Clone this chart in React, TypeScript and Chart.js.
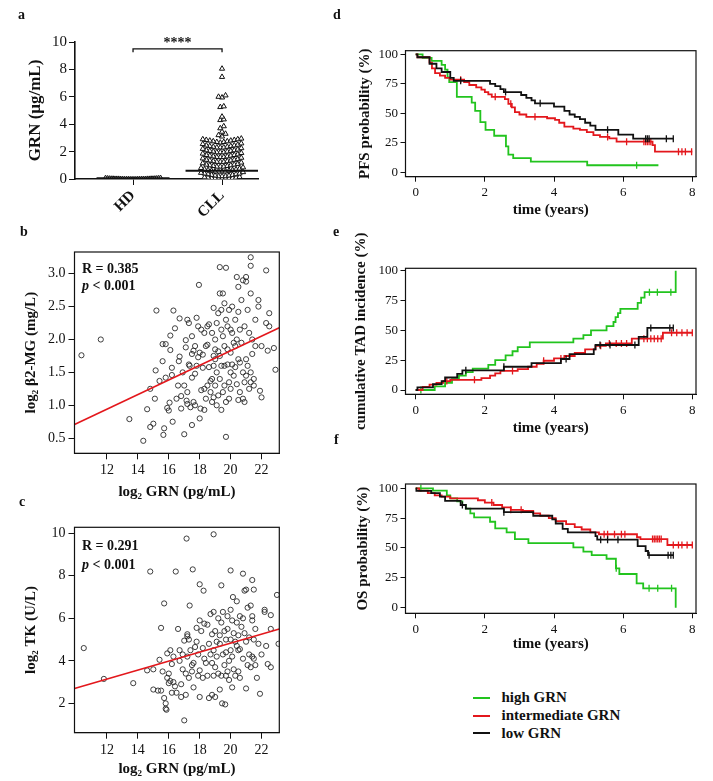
import React, { useEffect, useRef } from "react";
import { Chart, registerables } from "chart.js";
Chart.register(...registerables);

const FONT = '"Liberation Serif", "Times New Roman", Times, serif';
Chart.defaults.font.family = FONT;
Chart.defaults.color = "#111";

// ---------------- Panel a : GRN dot plot ----------------
const A_GROUPS = ["HD", "CLL"];
const A_HD = [0.02, 0.03, 0.05, 0.04, 0.06, 0.03, 0.08, 0.02, 0.05, 0.07, 0.04, 0.06, 0.03, 0.09, 0.05, 0.04, 0.02, 0.06, 0.1, 0.03, 0.05, 0.07, 0.04, 0.08, 0.03, 0.06, 0.05, 0.02, 0.04, 0.11];
const A_CLL = [
  8.05, 7.45, 6.1, 6.0, 5.95, 5.3, 5.25, 4.55, 4.35, 4.3, 3.85, 3.7, 3.45, 3.3, 3.2, 3.1,
  2.95, 2.9, 2.9, 2.85, 2.85, 2.8, 2.8, 2.75, 2.75, 2.7, 2.7, 2.65,
  2.6, 2.55, 2.5, 2.45, 2.45, 2.4, 2.4, 2.35, 2.35, 2.3, 2.3, 2.3,
  2.25, 2.2, 2.15, 2.1, 2.1, 2.05, 2.05, 2.0, 2.0, 1.95, 1.95, 1.95,
  1.9, 1.85, 1.8, 1.75, 1.75, 1.7, 1.7, 1.65, 1.65, 1.6, 1.6, 1.6,
  1.55, 1.5, 1.45, 1.4, 1.4, 1.35, 1.35, 1.3, 1.3, 1.25, 1.25, 1.25,
  1.2, 1.15, 1.1, 1.05, 1.05, 1.0, 1.0, 0.95, 0.95, 0.9, 0.9, 0.9,
  0.85, 0.8, 0.75, 0.7, 0.7, 0.65, 0.65, 0.6, 0.6, 0.55, 0.55, 0.55, 0.55,
  0.5, 0.45, 0.4, 0.4, 0.35, 0.35, 0.3, 0.3, 0.25, 0.25, 0.2, 0.2, 0.2,
  0.15, 0.12, 0.1, 0.1, 0.08, 0.06, 0.05, 0.05, 0.04, 0.03, 0.02,
];
const A_MEDIANS = [0.05, 0.6];
const A_Y_TICKS = [0, 2, 4, 6, 8, 10];
const A_BRACKET_Y = 9.5;
const A_SIG = "****";
const A_Y_TITLE = "GRN (μg/mL)";

// ---------------- Panel b : log2 GRN vs log2 B2-MG ----------------
const B_POINTS = [
  [10.35, 1.76], [11.6, 2.0], [13.45, 0.79], [14.35, 0.46], [14.6, 0.94], [14.8, 0.67], [14.8, 1.25], [15.0, 0.72], [15.1, 1.1], [15.15, 1.53], [15.2, 2.44], [15.4, 1.37],
  [15.6, 1.67], [15.6, 1.93], [15.7, 0.65], [15.65, 0.55], [15.8, 1.42], [15.8, 1.93], [15.9, 0.96], [16.0, 0.92], [16.05, 1.04], [16.1, 1.84], [16.1, 2.06], [16.2, 1.57], [16.2, 1.46], [16.25, 0.75], [16.3, 2.44], [16.4, 2.17], [16.5, 1.1], [16.6, 1.3], [16.7, 2.32], [16.7, 1.74], [16.65, 1.67], [16.8, 1.14], [16.8, 0.95], [16.9, 1.5],
  [17.0, 0.56], [17.0, 1.3], [17.1, 1.99], [17.1, 1.88], [17.15, 1.07], [17.2, 2.3], [17.2, 1.2], [17.2, 1.02], [17.3, 1.62], [17.35, 1.6], [17.3, 2.25], [17.4, 0.97], [17.5, 0.7], [17.5, 1.78], [17.5, 1.42], [17.5, 2.05], [17.6, 1.05], [17.6, 1.83], [17.7, 1.0], [17.7, 1.9], [17.7, 1.48], [17.8, 2.33], [17.8, 1.6], [17.9, 2.2], [17.9, 1.73], [17.95, 2.83],
  [18.0, 1.8], [18.0, 0.8], [18.05, 0.95], [18.1, 1.23], [18.1, 2.15], [18.2, 1.77], [18.2, 1.57], [18.3, 0.93], [18.3, 2.1], [18.3, 1.25], [18.4, 1.9], [18.4, 1.1], [18.5, 2.2], [18.5, 1.92], [18.5, 1.3], [18.6, 1.58], [18.6, 2.23], [18.7, 1.37], [18.7, 1.2], [18.8, 1.4], [18.8, 1.05], [18.8, 2.1], [18.9, 2.48], [18.9, 1.6], [18.9, 1.12], [18.9, 1.75],
  [19.0, 2.0], [19.0, 1.7], [19.0, 1.3], [19.0, 1.85], [19.1, 2.25], [19.1, 1.5], [19.1, 1.0], [19.2, 2.4], [19.2, 1.82], [19.2, 1.15], [19.3, 3.1], [19.3, 2.7], [19.3, 1.75], [19.3, 1.4], [19.4, 2.45], [19.4, 1.6], [19.4, 0.93], [19.4, 2.15], [19.5, 2.7], [19.5, 1.2], [19.5, 2.05], [19.6, 2.55], [19.6, 1.9], [19.6, 1.3], [19.6, 1.6], [19.7, 3.09], [19.7, 2.3], [19.7, 1.05], [19.7, 0.52], [19.8, 2.2], [19.8, 1.62], [19.8, 1.85], [19.9, 2.45], [19.9, 1.35], [19.9, 1.1],
  [20.0, 2.15], [20.0, 1.5], [20.0, 1.25], [20.0, 1.8], [20.1, 2.5], [20.1, 2.1], [20.1, 1.62], [20.2, 1.95], [20.2, 1.45], [20.3, 2.3], [20.3, 1.58], [20.3, 1.9], [20.4, 1.32], [20.4, 2.0], [20.4, 2.95], [20.5, 2.8], [20.5, 1.7], [20.5, 1.08], [20.5, 2.42], [20.6, 1.65], [20.6, 1.2], [20.6, 2.15], [20.7, 2.6], [20.7, 1.95], [20.8, 2.9], [20.8, 1.5], [20.8, 1.1], [20.9, 1.05], [20.9, 2.2], [20.9, 1.35],
  [21.0, 2.95], [21.0, 2.88], [21.0, 1.7], [21.0, 1.45], [21.1, 2.45], [21.1, 1.6], [21.2, 2.1], [21.2, 1.25], [21.3, 3.25], [21.3, 3.12], [21.3, 2.7], [21.3, 1.5], [21.3, 1.35], [21.4, 2.0], [21.4, 1.78], [21.5, 1.4], [21.5, 1.3], [21.6, 2.3], [21.6, 1.9], [21.8, 2.6], [21.8, 2.5], [21.9, 1.22], [22.0, 1.12], [22.0, 1.9], [22.3, 2.25], [22.3, 3.05], [22.4, 1.83], [22.5, 2.4], [22.5, 2.2], [22.8, 1.87], [22.9, 1.54],
];
const B_FIT = { intercept: -0.39, slope: 0.111 };
const B_STATS = ["R = 0.385", "p", " < 0.001"];
const B_X_TICKS = [12, 14, 16, 18, 20, 22];
const B_Y_TICKS = [0.5, 1.0, 1.5, 2.0, 2.5, 3.0];
const B_Y_TITLE = "log₂ β2-MG (mg/L)";
const GRN_X_TITLE = "log₂ GRN (pg/mL)";

// ---------------- Panel c : log2 GRN vs log2 TK ----------------
const C_POINTS = [
  [10.5, 4.6], [11.8, 3.15], [13.7, 2.95], [14.6, 3.55], [14.8, 8.2], [15.0, 3.6], [15.0, 2.65], [15.3, 2.6], [15.4, 4.05], [15.5, 5.55], [15.5, 2.6], [15.7, 6.7], [15.6, 3.5], [15.7, 2.25], [15.8, 2.0], [15.8, 1.75], [15.85, 1.7], [15.9, 4.35], [15.9, 3.2],
  [16.0, 3.4], [16.0, 2.95], [16.1, 4.5], [16.1, 3.05], [16.2, 3.85], [16.2, 2.5], [16.3, 4.2], [16.3, 3.0], [16.4, 2.8], [16.45, 8.2], [16.5, 2.5], [16.6, 5.5], [16.7, 4.5], [16.7, 4.0], [16.8, 2.9], [16.8, 2.3], [16.9, 4.3], [16.9, 3.6],
  [17.0, 1.2], [17.0, 4.95], [17.1, 3.4], [17.1, 2.4], [17.15, 9.75], [17.2, 5.25], [17.2, 5.15], [17.2, 4.2], [17.3, 3.2], [17.3, 5.0], [17.35, 6.6], [17.4, 4.5], [17.5, 3.8], [17.5, 3.5], [17.55, 8.3], [17.6, 3.9], [17.6, 2.75], [17.7, 4.65], [17.8, 5.55], [17.8, 4.9], [17.9, 3.3], [17.9, 4.3],
  [18.0, 7.6], [18.0, 5.9], [18.0, 2.3], [18.0, 3.55], [18.1, 5.4], [18.2, 4.6], [18.2, 3.2], [18.25, 7.3], [18.3, 5.75], [18.3, 4.1], [18.4, 3.9], [18.5, 5.7], [18.5, 3.3], [18.6, 4.8], [18.6, 2.25], [18.7, 6.2], [18.7, 4.3], [18.8, 5.25], [18.8, 3.9], [18.8, 2.4], [18.9, 9.95], [18.9, 6.3], [18.9, 4.5], [18.9, 3.3],
  [19.0, 5.4], [19.0, 3.7], [19.0, 2.3], [19.1, 4.9], [19.1, 4.2], [19.2, 6.0], [19.2, 3.4], [19.3, 5.2], [19.3, 4.8], [19.3, 2.65], [19.4, 5.8], [19.4, 3.3], [19.4, 7.55], [19.45, 2.0], [19.5, 6.3], [19.5, 4.3], [19.6, 5.4], [19.6, 3.8], [19.65, 1.95], [19.7, 5.0], [19.7, 4.4], [19.7, 3.3], [19.8, 6.1], [19.8, 5.5], [19.8, 3.5], [19.9, 4.0], [19.9, 3.1],
  [20.0, 8.25], [20.0, 6.4], [20.0, 5.0], [20.0, 4.5], [20.1, 5.9], [20.1, 4.2], [20.1, 2.75], [20.15, 7.0], [20.2, 5.3], [20.2, 3.6], [20.3, 4.9], [20.3, 3.3], [20.4, 6.8], [20.4, 5.8], [20.4, 4.7], [20.5, 5.2], [20.5, 4.5], [20.5, 3.5], [20.6, 6.1], [20.6, 4.55], [20.6, 3.2], [20.7, 5.6], [20.8, 8.1], [20.8, 4.1], [20.8, 6.0], [20.9, 7.3], [20.9, 5.3],
  [21.0, 7.35], [21.0, 4.9], [21.0, 2.7], [21.1, 6.5], [21.1, 3.8], [21.2, 5.1], [21.2, 4.3], [21.3, 6.6], [21.3, 3.7], [21.4, 7.8], [21.4, 6.1], [21.4, 5.9], [21.4, 4.2], [21.5, 7.35], [21.5, 5.0], [21.5, 4.1], [21.6, 5.5], [21.6, 3.8], [21.7, 3.2], [21.8, 4.8], [21.9, 2.45], [22.0, 4.3], [22.2, 6.4], [22.2, 6.3], [22.3, 4.7], [22.4, 3.85], [22.6, 6.15], [22.6, 5.5], [22.6, 3.7], [23.0, 7.1], [23.1, 4.8],
];
const C_FIT = { intercept: 0.607, slope: 0.2113 };
const C_STATS = ["R = 0.291", "p", " < 0.001"];
const C_Y_TICKS = [2, 4, 6, 8, 10];
const C_Y_TITLE = "log₂ TK (U/L)";

// ---------------- Panels d, e, f : Kaplan-Meier ----------------
const KM_X_TICKS = [0, 2, 4, 6, 8];
const KM_Y_TICKS = [0, 25, 50, 75, 100];
const KM_X_TITLE = "time (years)";
const LEGEND_LABELS = ["high GRN", "intermediate GRN", "low GRN"];

// d: PFS
const PFS_HIGH_T = [0, 0.2, 0.46, 0.75, 0.85, 0.92, 0.97, 1.19, 1.62, 1.72, 1.87, 2.02, 2.27, 2.61, 2.68, 2.82, 3.33, 4.96, 7.02];
const PFS_HIGH_S = [100, 97, 94.5, 91, 87, 80.5, 76.5, 64, 59, 52, 42.5, 36, 31, 22, 15, 12, 9, 6, 6];
const PFS_HIGH_C = [6.39];
const PFS_MID_T = [0, 0.05, 0.4, 0.47, 0.56, 0.7, 0.85, 1.0, 1.4, 1.55, 1.75, 1.9, 2.0, 2.1, 2.2, 2.58, 2.68, 2.78, 2.87, 3.0, 3.2, 3.8, 4.03, 4.15, 4.3, 4.56, 4.75, 4.95, 5.14, 5.33, 5.6, 5.81, 6.85, 6.92, 8.0];
const PFS_MID_S = [100, 97.5, 93, 88, 84, 82, 80, 78.5, 76.5, 74, 72, 70, 68, 66, 64, 62, 58, 55, 51, 49, 47, 45.8, 44.4, 42, 38.7, 37, 35.9, 34, 31.6, 30, 28.8, 26, 23, 17.5, 17.5];
const PFS_MID_C = [1.3, 2.3, 2.75, 3.45, 5.55, 6.1, 6.6, 6.65, 6.7, 6.75, 6.8, 7.6, 7.7, 7.8, 7.98];
const PFS_LOW_T = [0, 0.05, 0.4, 0.6, 0.75, 1.0, 1.1, 2.15, 2.3, 2.45, 2.55, 3.05, 3.2, 3.35, 3.45, 4.0, 4.3, 4.45, 4.6, 4.75, 4.9, 5.05, 5.2, 5.86, 6.29, 7.45];
const PFS_LOW_S = [100, 97.5, 92, 88, 85, 80, 77.5, 75, 73, 70.5, 68, 65.5, 63, 61, 58.5, 55.6, 52, 49, 47, 45, 42, 39.5, 36, 32, 28.5, 28.5];
const PFS_LOW_C = [1.3, 2.6, 3.6, 5.55, 6.65, 6.7, 6.75, 7.25, 7.45];

// e: cumulative TAD incidence
const TAD_HIGH_T = [0, 0.55, 0.85, 1.05, 1.25, 1.45, 1.65, 2.1, 2.3, 2.6, 2.8, 2.95, 3.3, 4.56, 4.85, 5.07, 5.52, 5.72, 5.78, 5.85, 5.92, 6.42, 6.52, 6.62, 7.52];
const TAD_HIGH_S = [0, 3, 6, 9, 12, 15, 18, 21, 25, 29, 32.5, 36, 40, 43, 46, 50, 53.5, 57, 61, 64.5, 68, 73, 77.5, 82, 100];
const TAD_HIGH_C = [0.15, 6.76, 6.99, 7.38];
const TAD_MID_T = [0, 0.2, 0.4, 0.6, 0.8, 1.0, 1.9, 2.15, 2.3, 2.45, 2.95, 3.25, 3.5, 3.7, 4.0, 4.3, 4.6, 4.9, 5.2, 5.5, 6.25, 7.15, 8.0];
const TAD_MID_S = [0, 2.5, 4.5, 6, 7.5, 8.5, 10, 12, 14, 16, 17.5, 19.5, 22, 24.5, 26.5, 28.5, 31, 34, 37, 39, 43, 48, 48];
const TAD_MID_C = [0.9, 1.7, 2.8, 3.7, 4.2, 5.35, 5.6, 5.8, 5.95, 6.1, 6.6, 6.7, 6.8, 6.9, 7.0, 7.1, 7.4, 7.55, 7.7, 7.85, 8.0];
const TAD_LOW_T = [0, 0.05, 0.5, 0.75, 0.85, 1.2, 1.35, 2.55, 3.35, 4.2, 4.45, 5.15, 5.2, 6.45, 6.7, 7.45];
const TAD_LOW_S = [0, 2.2, 5, 7.5, 10.5, 13.5, 16.5, 19.5, 22.5, 26, 30, 34, 37.7, 44.5, 52, 52];
const TAD_LOW_C = [1.45, 2.55, 4.35, 5.33, 5.62, 6.34, 6.8, 7.35, 7.45];

// f: OS
const OS_HIGH_T = [0, 0.5, 0.9, 1.0, 1.2, 1.35, 1.45, 1.58, 1.69, 2.15, 2.3, 2.63, 2.87, 3.26, 4.56, 4.85, 5.09, 5.52, 5.79, 5.89, 6.39, 6.58, 7.52];
const OS_HIGH_S = [100, 98, 94, 91.5, 89, 86, 83, 79, 75.7, 72, 66.5, 63, 57.5, 54, 50.6, 47, 44, 41, 33, 28.2, 20.4, 16.2, 0];
const OS_HIGH_C = [0.15, 5.8, 6.75, 7.0, 7.4];
const OS_MID_T = [0, 0.1, 0.35, 0.55, 0.75, 1.0, 1.8, 2.0, 2.25, 2.5, 2.75, 3.1, 3.4, 3.6, 3.85, 4.05, 4.35, 4.6, 4.8, 5.05, 5.3, 6.4, 6.5, 7.28, 8.0];
const OS_MID_S = [100, 98, 96, 94, 93, 91.5, 90, 88, 86, 84, 82, 81, 79, 77, 75, 72.5, 70, 67.5, 65.5, 63, 61.5, 59, 57.5, 52.5, 52.5];
const OS_MID_C = [2.2, 2.75, 3.05, 5.45, 5.55, 5.75, 5.95, 6.05, 6.85, 6.9, 6.95, 7.0, 7.05, 7.1, 7.45, 7.6, 7.7, 7.85, 8.0];
const OS_LOW_T = [0, 0.02, 0.45, 0.7, 0.85, 1.3, 1.45, 2.55, 3.4, 3.95, 4.05, 4.25, 4.4, 5.2, 5.25, 6.42, 6.65, 6.72, 7.45];
const OS_LOW_S = [100, 97.8, 96, 93, 89.5, 86, 83, 80, 77, 74, 70.5, 66, 63, 60, 57, 51.5, 47.5, 44, 44];
const OS_LOW_C = [1.35, 2.55, 5.35, 5.55, 5.85, 6.75, 7.3, 7.38, 7.45];

// ---------------- styling / layout ----------------
const INK = "#111";
const GREEN = "#22c41e";
const RED = "#e3171c";

type Box = { left: number; top: number; width: number; height: number };
type Area = { l: number; t: number; r: number; b: number };

function layoutPadding(box: Box, area: Area, yw: number, xh: number) {
  return {
    left: area.l - box.left - yw,
    top: area.t - box.top,
    right: box.left + box.width - area.r,
    bottom: box.top + box.height - area.b - xh,
  };
}

function linAxis(o: any) {
  return {
    type: "linear",
    position: o.vertical ? "left" : "bottom",
    min: o.min,
    max: o.max,
    afterBuildTicks: (s: any) => {
      s.ticks = o.ticks.map((v: number) => ({ value: v }));
    },
    afterFit: (s: any) => {
      if (o.vertical) s.width = o.size;
      else s.height = o.size;
    },
    grid: { display: true, drawOnChartArea: false, drawTicks: true, tickLength: o.tickLen ?? 5, color: INK, lineWidth: 1 },
    border: { display: true, color: INK, width: o.border ?? 1 },
    ticks: {
      font: { size: o.tickFont, family: FONT, weight: o.tickBold ? "bold" : "normal" },
      color: INK,
      padding: o.pad ?? 3,
      autoSkip: false,
      minRotation: o.rot ?? 0,
      maxRotation: o.rot ?? 0,
      callback: (v: any) => o.fmt(Number(v)),
    },
    title: {
      display: !!o.title,
      text: o.title || "",
      font: { size: o.titleFont, weight: "bold", family: FONT },
      color: INK,
      padding: 0,
    },
  };
}

const boxPlugin = {
  id: "frame",
  afterDatasetsDraw(chart: any) {
    const { ctx, chartArea: a } = chart;
    ctx.save();
    ctx.strokeStyle = INK;
    ctx.lineWidth = 1.2;
    ctx.strokeRect(a.left, a.top, a.right - a.left, a.bottom - a.top);
    ctx.restore();
  },
};

function statsPlugin(lines: string[], dx: number, dy1: number, dy2: number) {
  return {
    id: "stats",
    afterDraw(chart: any) {
      const { ctx, chartArea: a } = chart;
      ctx.save();
      ctx.fillStyle = INK;
      ctx.textBaseline = "middle";
      ctx.textAlign = "left";
      ctx.font = `bold 14px ${FONT}`;
      ctx.fillText(lines[0], a.left + dx, a.top + dy1);
      ctx.font = `italic bold 14px ${FONT}`;
      ctx.fillText(lines[1], a.left + dx, a.top + dy2);
      const w = ctx.measureText(lines[1]).width;
      ctx.font = `bold 14px ${FONT}`;
      ctx.fillText(lines[2], a.left + dx + w, a.top + dy2);
      ctx.restore();
    },
  };
}

const baseOptions = {
  responsive: false,
  animation: false,
  devicePixelRatio: 1,
  events: [],
};

// horizontal spread of dot-plot points within height bins (lowest values centred)
function swarm(values: number[], center: number, bin: number, spacing: number) {
  const bins: Record<string, number[]> = {};
  values.forEach((v) => {
    const k = String(Math.round(v / bin));
    (bins[k] = bins[k] || []).push(v);
  });
  const pts: any[] = [];
  Object.keys(bins).forEach((k) => {
    const arr = bins[k].slice().sort((a, b) => a - b);
    const n = arr.length;
    const slots: number[] = [];
    for (let i = 0; i < n; i++) slots.push(i - (n - 1) / 2);
    slots.sort((a, b) => Math.abs(a) - Math.abs(b) || a - b);
    arr.forEach((v, i) => pts.push({ x: center + slots[i] * spacing, y: v }));
  });
  return pts;
}

function stepAt(T: number[], S: number[], t: number) {
  let s = S[0];
  for (let i = 0; i < T.length; i++) if (T[i] <= t) s = S[i];
  return s;
}

function kmDatasets(groups: any[]) {
  const ds: any[] = [];
  groups.forEach((g) => {
    ds.push({
      type: "scatter",
      data: g.T.map((t: number, i: number) => ({ x: t, y: g.S[i] })),
      showLine: true,
      stepped: "before",
      borderColor: g.color,
      borderWidth: 1.8,
      pointRadius: 0,
      borderJoinStyle: "miter",
    });
    ds.push({
      type: "scatter",
      data: g.C.map((t: number) => ({ x: t, y: stepAt(g.T, g.S, t) })),
      pointStyle: "line",
      rotation: 90,
      pointRadius: 3.5,
      borderWidth: 1.3,
      borderColor: g.color,
      backgroundColor: g.color,
    });
  });
  return ds;
}

// ---------- layout boxes ----------
const A_BOX = { left: 0, top: 0, width: 300, height: 225 };
const A_AREA = { l: 75, t: 42, r: 258, b: 179 };
const B_BOX = { left: 0, top: 225, width: 330, height: 285 };
const B_AREA = { l: 74.5, t: 252, r: 279.3, b: 453.3 };
const C_BOX = { left: 0, top: 510, width: 330, height: 271 };
const C_AREA = { l: 74.5, t: 527.3, r: 279.3, b: 732.7 };
const D_BOX = { left: 330, top: 0, width: 383, height: 228 };
const D_AREA = { l: 405.5, t: 50.7, r: 696, b: 176.7 };
const E_BOX = { left: 330, top: 228, width: 383, height: 212 };
const E_AREA = { l: 405.5, t: 268.3, r: 696, b: 394.3 };
const F_BOX = { left: 330, top: 440, width: 383, height: 220 };
const F_AREA = { l: 405.5, t: 484, r: 696, b: 613.3 };

function configA() {
  const spacingCLL = 3.5 / 89;
  const spacingHD = 1.9 / 89;
  const hd = swarm(A_HD, 0, 1, spacingHD);
  const cll = swarm(A_CLL, 1, 0.35, spacingCLL);
  const medians = A_MEDIANS.map((m, i) => ({
    type: "scatter",
    data: [{ x: i - 0.41, y: m }, { x: i + 0.41, y: m }],
    showLine: true,
    borderColor: INK,
    borderWidth: 2,
    pointRadius: 0,
  }));
  const bracket = {
    type: "scatter",
    data: [{ x: 0, y: A_BRACKET_Y - 0.25 }, { x: 0, y: A_BRACKET_Y }, { x: 1, y: A_BRACKET_Y }, { x: 1, y: A_BRACKET_Y - 0.25 }],
    showLine: true,
    borderColor: INK,
    borderWidth: 1.3,
    pointRadius: 0,
  };
  const pointStyle = { pointStyle: "triangle", pointRadius: 3, borderColor: INK, borderWidth: 1, backgroundColor: "#fff" };
  const starsPlugin = {
    id: "stars",
    afterDraw(chart: any) {
      const { ctx, scales } = chart;
      const cx = (scales.x.getPixelForValue(0) + scales.x.getPixelForValue(1)) / 2;
      const cy = scales.y.getPixelForValue(A_BRACKET_Y);
      ctx.save();
      ctx.fillStyle = INK;
      ctx.font = `bold 14px ${FONT}`;
      ctx.textAlign = "center";
      ctx.textBaseline = "alphabetic";
      ctx.fillText(A_SIG, cx, cy - 2);
      ctx.restore();
    },
  };
  return {
    type: "scatter",
    data: {
      datasets: [
        ...medians,
        bracket,
        { data: hd, ...pointStyle, pointRadius: 2.4 },
        { data: cll, ...pointStyle },
      ],
    },
    options: {
      ...baseOptions,
      layout: { padding: layoutPadding(A_BOX, A_AREA, 50, 40) },
      plugins: { legend: { display: false }, tooltip: { enabled: false } },
      scales: {
        x: linAxis({ vertical: false, min: -0.652, max: 1.404, ticks: [0, 1], fmt: (v: number) => A_GROUPS[Math.round(v)], tickFont: 15, tickBold: true, rot: 45, size: 40, tickLen: 6, pad: 2, border: 1.6 }),
        y: linAxis({ vertical: true, min: 0, max: 10, ticks: A_Y_TICKS, fmt: (v: number) => String(v), tickFont: 15, size: 50, tickLen: 6, pad: 2, border: 1.6, title: A_Y_TITLE, titleFont: 17 }),
      },
    },
    plugins: [starsPlugin],
  };
}

function configScatter(points: number[][], fit: any, stats: string[], yTicks: number[], yFmt: (v: number) => string, yMin: number, yMax: number, yTitle: string, box: Box, area: Area, xh: number, dy1: number, dy2: number) {
  const xMin = 9.9, xMax = 23.15;
  return {
    type: "scatter",
    data: {
      datasets: [
        {
          type: "scatter",
          data: [xMin, xMax].map((x) => ({ x, y: fit.intercept + fit.slope * x })),
          showLine: true,
          borderColor: RED,
          borderWidth: 1.6,
          pointRadius: 0,
        },
        {
          data: points.map((p) => ({ x: p[0], y: p[1] })),
          pointStyle: "circle",
          pointRadius: 2.6,
          borderWidth: 0.9,
          borderColor: "#2a2a2a",
          backgroundColor: "rgba(0,0,0,0)",
        },
      ],
    },
    options: {
      ...baseOptions,
      layout: { padding: layoutPadding(box, area, 52, xh) },
      plugins: { legend: { display: false }, tooltip: { enabled: false } },
      scales: {
        x: linAxis({ vertical: false, min: xMin, max: xMax, ticks: B_X_TICKS, fmt: (v: number) => String(v), tickFont: 14, size: xh, tickLen: 6, pad: 3, title: GRN_X_TITLE, titleFont: 15 }),
        y: linAxis({ vertical: true, min: yMin, max: yMax, ticks: yTicks, fmt: yFmt, tickFont: 14, size: 52, tickLen: 6, pad: 3, title: yTitle, titleFont: 15 }),
      },
    },
    plugins: [boxPlugin, statsPlugin(stats, 7.5, dy1, dy2)],
  };
}

function configKM(groups: any[], yTitle: string, yMin: number, yMax: number, box: Box, area: Area, yw: number, xh: number) {
  return {
    type: "scatter",
    data: { datasets: kmDatasets(groups) },
    options: {
      ...baseOptions,
      layout: { padding: layoutPadding(box, area, yw, xh) },
      plugins: { legend: { display: false }, tooltip: { enabled: false } },
      scales: {
        x: linAxis({ vertical: false, min: -0.295, max: 8.107, ticks: KM_X_TICKS, fmt: (v: number) => String(v), tickFont: 13, size: xh, tickLen: 5, pad: 3, title: KM_X_TITLE, titleFont: 15 }),
        y: linAxis({ vertical: true, min: yMin, max: yMax, ticks: KM_Y_TICKS, fmt: (v: number) => String(v), tickFont: 13, size: yw, tickLen: 5, pad: 2.5, title: yTitle, titleFont: 15 }),
      },
    },
    plugins: [boxPlugin],
  };
}

function groupsOf(hT: number[], hS: number[], hC: number[], mT: number[], mS: number[], mC: number[], lT: number[], lS: number[], lC: number[]) {
  return [
    { T: lT, S: lS, C: lC, color: INK },
    { T: mT, S: mS, C: mC, color: RED },
    { T: hT, S: hS, C: hC, color: GREEN },
  ];
}

function ChartCanvas({ box, make }: { box: Box; make: () => any }) {
  const ref = useRef<HTMLCanvasElement>(null);
  useEffect(() => {
    const chart = new Chart(ref.current as HTMLCanvasElement, make());
    return () => chart.destroy();
  }, []);
  return (
    <canvas
      ref={ref}
      width={box.width}
      height={box.height}
      style={{ position: "absolute", left: box.left, top: box.top, width: box.width, height: box.height }}
    />
  );
}

const letterStyle = (x: number, baseline: number): any => ({
  position: "absolute",
  left: x,
  top: baseline - 11.7,
  font: `bold 14px ${FONT}`,
  lineHeight: "14px",
  color: INK,
});

export default function App() {
  const legendRows = [
    { label: LEGEND_LABELS[0], color: GREEN, base: 702 },
    { label: LEGEND_LABELS[1], color: RED, base: 720 },
    { label: LEGEND_LABELS[2], color: INK, base: 737.7 },
  ];
  return (
    <div style={{ position: "absolute", left: 0, top: 0, width: 713, height: 781, background: "#fff", overflow: "hidden" }}>
      <ChartCanvas box={A_BOX} make={configA} />
      <ChartCanvas
        box={B_BOX}
        make={() => configScatter(B_POINTS, B_FIT, B_STATS, B_Y_TICKS, (v) => v.toFixed(1), 0.27, 3.33, B_Y_TITLE, B_BOX, B_AREA, 48, 17, 34)}
      />
      <ChartCanvas
        box={C_BOX}
        make={() => configScatter(C_POINTS, C_FIT, C_STATS, C_Y_TICKS, (v) => String(v), 0.62, 10.28, C_Y_TITLE, C_BOX, C_AREA, 45, 19.4, 37.7)}
      />
      <ChartCanvas
        box={D_BOX}
        make={() => configKM(groupsOf(PFS_HIGH_T, PFS_HIGH_S, PFS_HIGH_C, PFS_MID_T, PFS_MID_S, PFS_MID_C, PFS_LOW_T, PFS_LOW_S, PFS_LOW_C), "PFS probability (%)", -3.7, 103.05, D_BOX, D_AREA, 49.5, 42.3)}
      />
      <ChartCanvas
        box={E_BOX}
        make={() => configKM(groupsOf(TAD_HIGH_T, TAD_HIGH_S, TAD_HIGH_C, TAD_MID_T, TAD_MID_S, TAD_MID_C, TAD_LOW_T, TAD_LOW_S, TAD_LOW_C), "cumulative TAD incidence (%)", -3.6, 102.0, E_BOX, E_AREA, 53, 43)}
      />
      <ChartCanvas
        box={F_BOX}
        make={() => configKM(groupsOf(OS_HIGH_T, OS_HIGH_S, OS_HIGH_C, OS_MID_T, OS_MID_S, OS_MID_C, OS_LOW_T, OS_LOW_S, OS_LOW_C), "OS probability (%)", -4.7, 103.6, F_BOX, F_AREA, 51, 40)}
      />
      <div style={letterStyle(18, 20)}>a</div>
      <div style={letterStyle(20, 237)}>b</div>
      <div style={letterStyle(19, 507)}>c</div>
      <div style={letterStyle(333, 20)}>d</div>
      <div style={letterStyle(333, 237)}>e</div>
      <div style={letterStyle(334, 445)}>f</div>
      {legendRows.map((r) => (
        <React.Fragment key={r.label}>
          <div style={{ position: "absolute", left: 473, top: r.base - 5.5, width: 17, height: 2, background: r.color }} />
          <div style={{ position: "absolute", left: 501.5, top: r.base - 14.1, font: `bold 15px ${FONT}`, lineHeight: "18px", color: INK, whiteSpace: "nowrap" }}>
            {r.label}
          </div>
        </React.Fragment>
      ))}
    </div>
  );
}
